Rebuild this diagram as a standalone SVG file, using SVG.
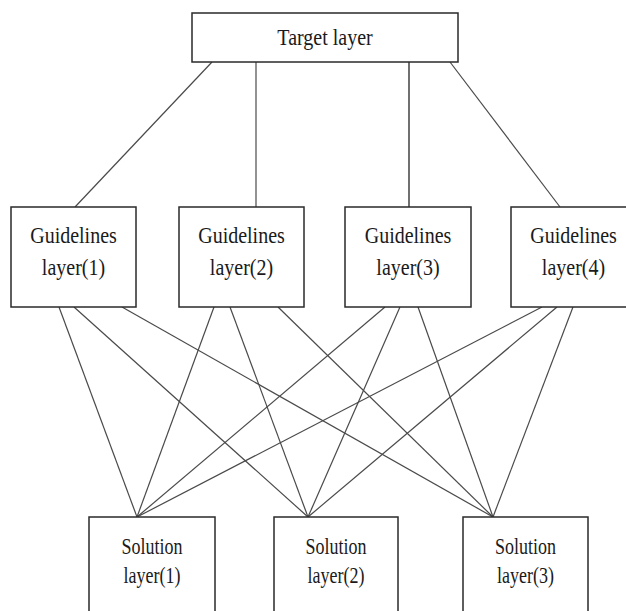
<svg xmlns="http://www.w3.org/2000/svg" width="626" height="611" viewBox="0 0 626 611">
<style>
.box{fill:#fff;stroke:#2a2a2a;stroke-width:1.5}
.t{font-family:"Liberation Serif","Times New Roman",serif;font-size:20px;fill:#1a1a1a;text-anchor:middle}
.s{font-family:"Liberation Serif","Times New Roman",serif;font-size:18px;fill:#1a1a1a;text-anchor:middle}
.c line{stroke:#4a4a4a;stroke-width:1.2}
</style>
<rect width="626" height="611" fill="#fff"/>
<g class="c" id="connectors">
<line x1="212" y1="62" x2="75" y2="207"/>
<line x1="256" y1="62" x2="256" y2="207"/>
<line x1="409" y1="62" x2="409" y2="207" style="stroke:#111"/>
<line x1="450" y1="62" x2="560" y2="207"/>
<line x1="59" y1="307" x2="137" y2="517"/>
<line x1="74" y1="307" x2="308" y2="517"/>
<line x1="122" y1="307" x2="493" y2="517"/>
<line x1="214" y1="307" x2="137" y2="517"/>
<line x1="230" y1="307" x2="308" y2="517"/>
<line x1="278" y1="307" x2="493" y2="517"/>
<line x1="385" y1="307" x2="137" y2="517"/>
<line x1="400" y1="307" x2="308" y2="517"/>
<line x1="418" y1="307" x2="493" y2="517"/>
<line x1="542" y1="307" x2="137" y2="517"/>
<line x1="557" y1="307" x2="308" y2="517"/>
<line x1="573" y1="307" x2="493" y2="517"/>
</g>
<g id="target">
<rect class="box" x="192" y="13" width="266" height="49"/>
<text class="t" transform="translate(325,45) scale(1,1.2)">Target layer</text>
</g>
<g id="g1">
<rect class="box" x="11" y="207" width="125" height="100"/>
<text class="t" transform="translate(73.5,243) scale(1,1.2)">Guidelines</text>
<text class="t" transform="translate(73.5,275) scale(1,1.2)">layer(1)</text>
</g>
<g id="g2">
<rect class="box" x="179" y="207" width="125" height="100"/>
<text class="t" transform="translate(241.5,243) scale(1,1.2)">Guidelines</text>
<text class="t" transform="translate(241.5,275) scale(1,1.2)">layer(2)</text>
</g>
<g id="g3">
<rect class="box" x="345" y="207" width="126" height="100"/>
<text class="t" transform="translate(408,243) scale(1,1.2)">Guidelines</text>
<text class="t" transform="translate(408,275) scale(1,1.2)">layer(3)</text>
</g>
<g id="g4">
<rect class="box" x="511" y="207" width="125" height="100"/>
<text class="t" transform="translate(573.5,243) scale(1,1.2)">Guidelines</text>
<text class="t" transform="translate(573.5,275) scale(1,1.2)">layer(4)</text>
</g>
<g id="s1">
<rect class="box" x="89" y="517" width="126" height="110"/>
<text class="s" transform="translate(152,554) scale(1,1.25)">Solution</text>
<text class="s" transform="translate(152,583) scale(1,1.25)">layer(1)</text>
</g>
<g id="s2">
<rect class="box" x="274" y="517" width="124" height="110"/>
<text class="s" transform="translate(336,554) scale(1,1.25)">Solution</text>
<text class="s" transform="translate(336,583) scale(1,1.25)">layer(2)</text>
</g>
<g id="s3">
<rect class="box" x="463" y="517" width="125" height="110"/>
<text class="s" transform="translate(525.5,554) scale(1,1.25)">Solution</text>
<text class="s" transform="translate(525.5,583) scale(1,1.25)">layer(3)</text>
</g>
</svg>
